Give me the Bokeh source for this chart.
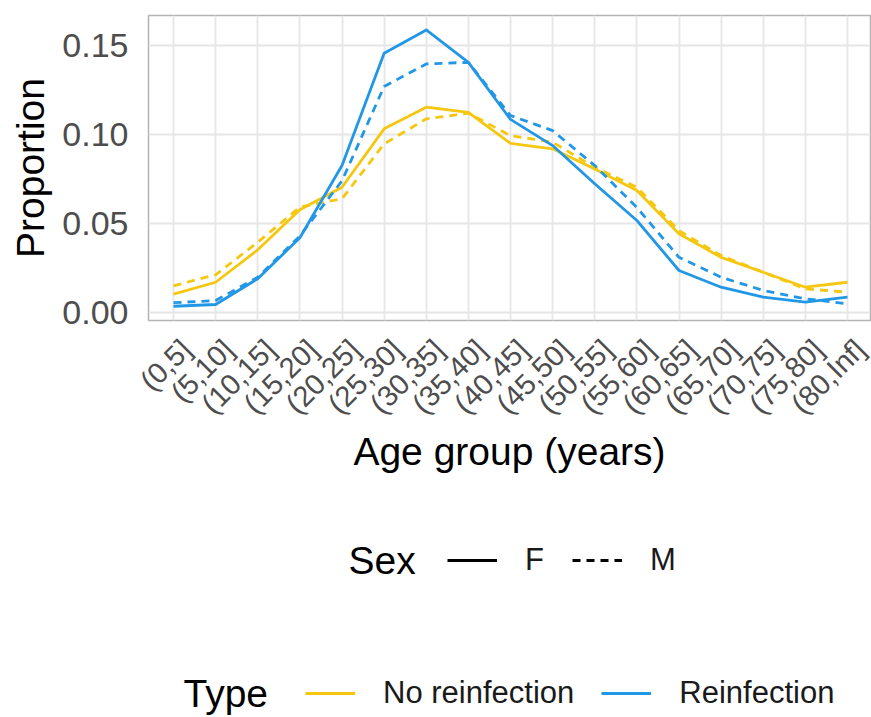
import math
from bokeh.plotting import figure
from bokeh.layouts import column
from bokeh.models import (Range1d, FixedTicker, Legend, LegendItem, ColumnDataSource, Label)
from bokeh.embed import file_html
from bokeh.resources import INLINE

age_groups = ["(0,5]", "(5,10]", "(10,15]", "(15,20]", "(20,25]", "(25,30]",
              "(30,35]", "(35,40]", "(40,45]", "(45,50]", "(50,55]", "(55,60]",
              "(60,65]", "(65,70]", "(70,75]", "(75,80]", "(80,Inf]"]

noreinf_F = [0.0103, 0.017, 0.0352, 0.0577, 0.0704, 0.1032, 0.1154, 0.1125, 0.095,
             0.092, 0.0807, 0.0685, 0.0442, 0.031, 0.0226, 0.0142, 0.017]
noreinf_M = [0.015, 0.0212, 0.0395, 0.0592, 0.0639, 0.0948, 0.1088, 0.112, 0.0994,
             0.0957, 0.0816, 0.0704, 0.046, 0.032, 0.0226, 0.0133, 0.0114]
reinf_F = [0.0035, 0.0045, 0.019, 0.042, 0.0826, 0.1457, 0.1588, 0.1406, 0.1085,
           0.0938, 0.0723, 0.0517, 0.0236, 0.0142, 0.0086, 0.0058, 0.0086]
reinf_M = [0.0055, 0.0067, 0.0198, 0.043, 0.074, 0.127, 0.1397, 0.1406, 0.1107,
           0.1022, 0.0826, 0.059, 0.031, 0.0198, 0.0124, 0.0077, 0.0049]

y_ticks = [0.0, 0.05, 0.10, 0.15]
y_tick_labels = ["0.00", "0.05", "0.10", "0.15"]

type_names = ["No reinfection", "Reinfection"]
type_colors = ["#F5C710", "#2297E6"]
sex_names = ["F", "M"]
sex_dashes = ["solid", "8 6"]

FONT = "Liberation Sans"
LW = 2.8
xs = list(range(len(age_groups)))
LABEL_SHIFT = 0.3  # tick-label anchor offset (ggplot hjust=1 look)

W = 871
H_MAIN = 480
H_LEG = 237

p = figure(width=W, height=H_MAIN, output_backend="svg", toolbar_location=None,
           x_range=Range1d(-0.5935, 16.546), y_range=Range1d(-0.0045, 0.1669),
           min_border_left=148, min_border_right=1, min_border_top=15,
           min_border_bottom=160)

p.background_fill_color = "white"
p.border_fill_color = "white"
p.outline_line_color = "#B3B3B3"
p.outline_line_width = 1.5

# grids
p.xgrid.grid_line_color = "#E6E6E6"
p.ygrid.grid_line_color = "#E6E6E6"
p.xgrid.grid_line_width = 1.8
p.ygrid.grid_line_width = 1.8
p.xgrid.ticker = FixedTicker(ticks=xs)
p.ygrid.ticker = FixedTicker(ticks=y_ticks)

# axes
p.xaxis.ticker = FixedTicker(ticks=[i + LABEL_SHIFT for i in xs])
p.xaxis.major_label_overrides = {i + LABEL_SHIFT: lab for i, lab in zip(xs, age_groups)}
p.xaxis.major_label_orientation = math.pi / 4
p.yaxis.ticker = FixedTicker(ticks=y_ticks)
p.yaxis.major_label_overrides = {t: l for t, l in zip(y_ticks, y_tick_labels)}
for ax in (p.xaxis, p.yaxis):
    ax.axis_line_color = None
    ax.major_tick_line_color = None
    ax.minor_tick_line_color = None
    ax.major_tick_out = 0
    ax.major_tick_in = 0
    ax.major_label_text_font = FONT
    ax.major_label_text_color = "#4D4D4D"
    ax.axis_label_text_font = FONT
    ax.axis_label_text_font_style = "normal"
    ax.axis_label_text_color = "black"
    ax.axis_label_text_font_size = "39px"
p.xaxis.major_label_text_font_size = "29px"
p.yaxis.major_label_text_font_size = "34px"
p.xaxis.axis_label = "Age group (years)"
p.yaxis.axis_label = "Proportion"
p.xaxis.major_label_standoff = 24
p.yaxis.major_label_standoff = 20
p.yaxis.axis_label_standoff = 7
p.xaxis.axis_label_standoff = -4

series = {
    ("No reinfection", "F"): noreinf_F,
    ("No reinfection", "M"): noreinf_M,
    ("Reinfection", "F"): reinf_F,
    ("Reinfection", "M"): reinf_M,
}

for tname, tcol in zip(type_names, type_colors):
    for sname, sdash in zip(sex_names, sex_dashes):
        src = ColumnDataSource(dict(x=xs, y=series[(tname, sname)]))
        p.line("x", "y", source=src, line_color=tcol, line_width=LW,
               line_dash=sdash, line_join="round")

# ---- legend area (separate canvas below the chart) ----
q = figure(width=W, height=H_LEG, output_backend="svg", toolbar_location=None,
           x_range=Range1d(0, 1), y_range=Range1d(0, 1),
           x_axis_type=None, y_axis_type=None, min_border=0)
q.outline_line_color = None
q.grid.visible = False
q.background_fill_color = "white"
q.border_fill_color = "white"

nan = float("nan")
sex_renderers = [q.line(x=[nan, nan], y=[nan, nan], line_color="black", line_width=LW,
                        line_dash=d) for d in sex_dashes]
type_renderers = [q.line(x=[nan, nan], y=[nan, nan], line_color=c, line_width=LW)
                  for c in type_colors]

def style_legend(lg):
    lg.orientation = "horizontal"
    lg.label_text_font = FONT
    lg.label_text_font_size = "31px"
    lg.label_text_color = "#1A1A1A"
    lg.label_text_baseline = "middle"
    lg.glyph_width = 50
    lg.glyph_height = 36
    lg.label_height = 36
    lg.label_standoff = 28
    lg.spacing = 27
    lg.border_line_color = None
    lg.background_fill_alpha = 0
    lg.padding = 0
    lg.margin = 0

# screen offsets relative to the legend canvas frame (left = chart frame left)
SEX_Y = 157
TYPE_Y = 24

sex_legend = Legend(items=[LegendItem(label=s, renderers=[r]) for s, r in zip(sex_names, sex_renderers)],
                    location=(299, SEX_Y - 18))
style_legend(sex_legend)
type_legend = Legend(items=[LegendItem(label=t, renderers=[r]) for t, r in zip(type_names, type_renderers)],
                     location=(157, TYPE_Y - 18))
style_legend(type_legend)
q.add_layout(sex_legend, "center")
q.add_layout(type_legend, "center")

for txt, x, y in (("Sex", 200, SEX_Y), ("Type", 35, TYPE_Y)):
    q.add_layout(Label(x=x, y=y, x_units="screen", y_units="screen", text=txt,
                       text_font=FONT, text_font_size="39px", text_color="black",
                       text_baseline="middle", text_align="left"))

layout = column(p, q, spacing=0)
open("out.html", "w").write(file_html(layout, INLINE))
